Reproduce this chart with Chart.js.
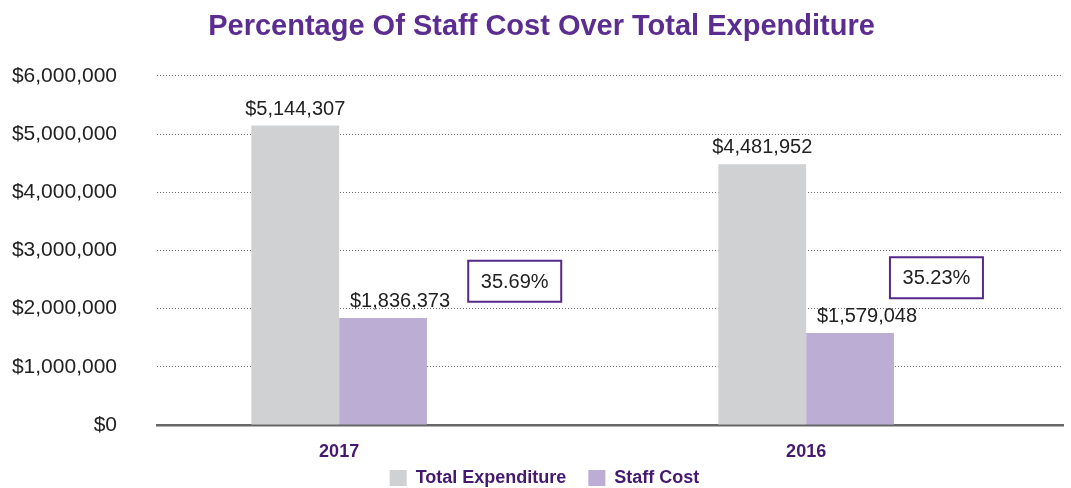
<!DOCTYPE html>
<html>
<head>
<meta charset="utf-8">
<title>Percentage Of Staff Cost Over Total Expenditure</title>
<script src="https://cdn.jsdelivr.net/npm/chart.js@4.4.1/dist/chart.umd.min.js"></script>
<style>
  html, body { margin: 0; padding: 0; background: #ffffff; }
  #chartBox { width: 1071px; height: 488px; }
</style>
</head>
<body>
<div id="chartBox"><canvas id="staffCostChart"></canvas></div>
<script>
// Số liệu
const years = ['2017', '2016'];
const totalExpenditure = [5144307, 4481952];
const staffCost = [1836373, 1579048];
const percentLabels = ['35.69%', '35.23%'];
const yTickValues = [0, 1000000, 2000000, 3000000, 4000000, 5000000, 6000000];

const FONT = '"Liberation Sans", Arial, sans-serif';
const PURPLE_DARK = '#45196f';

function formatMoney(v) {
    return '$' + Number(v).toLocaleString('en-US');
}

// Nhãn giá trị phía trên mỗi cột
const barValueLabels = {
    id: 'barValueLabels',
    afterDatasetsDraw(chart) {
        const ctx = chart.ctx;
        ctx.save();
        ctx.font = '20px ' + FONT;
        ctx.fillStyle = '#222222';
        ctx.textAlign = 'center';
        ctx.textBaseline = 'alphabetic';
        chart.data.datasets.forEach((ds, di) => {
            const meta = chart.getDatasetMeta(di);
            const shift = ds.labelShift || 0;
            meta.data.forEach((bar, i) => {
                ctx.fillText(formatMoney(ds.data[i].y), bar.x + shift, bar.y - 11);
            });
        });
        ctx.restore();
    }
};

// Ô phần trăm có viền tím
const percentBoxes = {
    id: 'percentBoxes',
    afterDatasetsDraw(chart, args, opts) {
        const ctx = chart.ctx;
        const xs = chart.scales.x;
        const ys = chart.scales.y;
        ctx.save();
        percentLabels.forEach((txt, i) => {
            const cx = xs.getPixelForValue(i + opts.offsetX[i]);
            const cy = ys.getPixelForValue(opts.anchorY[i]);
            const w = opts.width, h = opts.height;
            ctx.fillStyle = '#ffffff';
            ctx.fillRect(cx - w / 2, cy - h / 2, w, h);
            ctx.lineWidth = 2;
            ctx.strokeStyle = opts.borderColor;
            ctx.strokeRect(cx - w / 2, cy - h / 2, w, h);
            ctx.font = '20px ' + FONT;
            ctx.fillStyle = '#222222';
            ctx.textAlign = 'center';
            ctx.textBaseline = 'middle';
            ctx.fillText(txt, cx, cy + 1);
        });
        ctx.restore();
    }
};

// Dịch nhẹ tiêu đề và chú giải sau khi bố cục xong
const nudgeBoxes = {
    id: 'nudgeBoxes',
    afterLayout(chart, args, opts) {
        const lg = chart.legend;
        if (lg) {
            lg.left += opts.legendDx;
            lg.right += opts.legendDx;
            lg.top += opts.legendDy; // chỉ kéo mép trên lên, mép dưới giữ nguyên
        }
        const tb = chart.titleBlock;
        if (tb) {
            tb.left += opts.titleDx;
            tb.right += opts.titleDx;
        }
    }
};

function initStaffCostChart() {
    const ctx = document.getElementById('staffCostChart').getContext('2d');

    new Chart(ctx, {
        type: 'bar',
        data: {
            datasets: [{
                label: 'Total Expenditure',
                data: totalExpenditure.map((v, i) => ({ x: i, y: v })),
                backgroundColor: '#d0d1d3',
                borderWidth: 0,
                labelShift: 0
            }, {
                label: 'Staff Cost',
                data: staffCost.map((v, i) => ({ x: i, y: v })),
                backgroundColor: '#bcadd4',
                borderWidth: 0,
                labelShift: 17
            }]
        },
        plugins: [barValueLabels, percentBoxes, nudgeBoxes],
        options: {
            responsive: true,
            maintainAspectRatio: false,
            animation: false,
            categoryPercentage: 0.376,
            barPercentage: 1.0,
            layout: {
                padding: { left: 0, right: 8, top: 0, bottom: 0 }
            },
            plugins: {
                title: {
                    display: true,
                    text: 'Percentage Of Staff Cost Over Total Expenditure',
                    color: '#5c2d91',
                    font: { family: FONT, size: 29, weight: 'bold' },
                    padding: { top: 10, bottom: 31 }
                },
                legend: {
                    position: 'bottom',
                    maxHeight: 27,
                    labels: {
                        boxWidth: 17,
                        boxHeight: 16,
                        padding: 22,
                        color: PURPLE_DARK,
                        font: { family: FONT, size: 18, weight: 'bold' }
                    }
                },
                tooltip: { enabled: false },
                percentBoxes: {
                    offsetX: [0.376, 0.279],
                    anchorY: [2470000, 2530000],
                    width: 93,
                    height: 41,
                    borderColor: '#55288a'
                },
                nudgeBoxes: { legendDx: 13, legendDy: -14, titleDx: 10 }
            },
            scales: {
                x: {
                    type: 'linear',
                    offset: false,
                    min: -0.39,
                    max: 1.55,
                    afterBuildTicks: (scale) => {
                        scale.ticks = years.map((_, i) => ({ value: i }));
                    },
                    afterFit: (scale) => { scale.height = 36; },
                    grid: { display: true, drawTicks: false, color: 'rgba(0,0,0,0)' },
                    border: { display: true, color: '#666666', width: 2.5 },
                    ticks: {
                        padding: 16,
                        color: PURPLE_DARK,
                        font: { family: FONT, size: 18, weight: 'bold' },
                        callback: (v) => years[v]
                    }
                },
                y: {
                    min: 0,
                    max: 6000000,
                    afterBuildTicks: (scale) => {
                        scale.ticks = yTickValues.map(v => ({ value: v }));
                    },
                    afterFit: (scale) => { scale.width = 157; },
                    grid: {
                        drawTicks: false,
                        lineWidth: 1,
                        color: (c) => c.tick && c.tick.value === 0 ? 'rgba(0,0,0,0)' : '#6e6e6e'
                    },
                    border: { display: false, dash: [1, 2] },
                    ticks: {
                        padding: 40,
                        color: '#222222',
                        font: { family: FONT, size: 21 },
                        callback: (v) => formatMoney(v)
                    }
                }
            }
        }
    });
}

initStaffCostChart();
</script>
</body>
</html>
